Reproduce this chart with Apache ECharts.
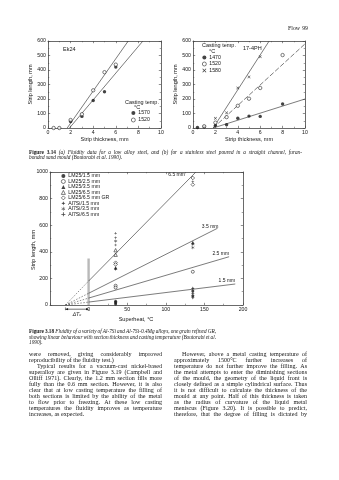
<!DOCTYPE html>
<html>
<head>
<meta charset="utf-8">
<title>Flow 99</title>
<script src="https://cdn.jsdelivr.net/npm/echarts@6.0.0/dist/echarts.min.js"></script>
<style>
html, body { margin: 0; padding: 0; background: #fff; }
#page { width: 339px; height: 480px; }
</style>
</head>
<body>
<div id="page"></div>
<script>
// ---------- Figure 3.14(a): Ek24 low alloy steel ----------
const ek24Pts1570 = [[2, 45], [3, 80], [4, 190], [5, 250], [6, 420]];
const ek24Pts1520 = [[0.5, 0], [1, 0], [2, 55], [3, 95], [4, 260], [5, 385], [6, 437]];
const ek24Fit1570 = [[1.9, 0], [8.4, 600]];
const ek24Fit1520 = [[1.7, 0], [7.1, 600]];

// ---------- Figure 3.14(b): 17-4PH stainless steel ----------
const phPts1470 = [[0.4, 3], [1, 8], [2, 18], [3, 22], [4, 67], [5, 82], [6, 80], [8, 166]];
const phPts1520 = [[1, 12], [2, 37], [3, 75], [4, 153], [5, 202], [6, 276], [8, 503]];
const phPts1580 = [[2, 67], [3, 105], [4, 276], [5, 352], [6, 492]];
const phFit1470 = [[1.8, 0], [10, 200]];
const phFit1520 = [[1.8, 0], [10, 580]];
const phFit1580 = [[1.8, 0], [6.8, 600]];

// axis ranges: [min, max, step]
const thicknessRange = [0, 10, 2];
const stripLengthRange = [0, 600, 100];
const superheatRange = [-50, 200, 50];
const longStripRange = [0, 1000, 200];

// ---------- Figure 3.18: Al-7Si alloys ----------
const sectionLabels = ['6.5 mm', '3.5 mm', '2.5 mm', '1.5 mm'];
const deltaT0 = -30;
const fitAtZero = [180, 88, 52, 22];
const fitEnd = [[139, 1000], [167, 577], [182, 363], [190, 158]];
const liquidusBarTop = 350;

const alloyNames = ['LM25/1.5 mm', 'LM25/2.5 mm', 'LM25/3.5 mm', 'LM25/6.5 mm',
  'LM25/6.5 mm GR', 'Al7Si/1.5 mm', 'Al7Si/3.5 mm', 'Al7Si/6.5 mm'];
const lm25_15 = [[35, 28], [35, 18], [35, 7], [135, 105], [135, 70]];
const lm25_25 = [[35, 145], [35, 131], [135, 250]];
const lm25_35 = [[35, 280], [135, 470]];
const lm25_65 = [[35, 412], [35, 378]];
const lm25_65gr = [[35, 318], [35, 305], [135, 955], [135, 905]];
const al7si_15 = [[35, 270], [135, 125], [135, 88], [135, 55]];
const al7si_35 = [[35, 481], [135, 456], [135, 432]];
const al7si_65 = [[35, 539], [35, 506], [35, 451], [135, 927]];

// ---------- Captions and running text ----------
const caption314 = [
  'Figure 3.14 (a) Fluidity data for a low alloy steel, and (b) for a stainless steel poured in a straight channel, furan-',
  'bonded sand mould (Boutorabi et al. 1990).'
];
const caption318 = [
  'Figure 3.18 Fluidity of a variety of Al-7Si and Al-7Si-0.4Mg alloys, one grain refined GR,',
  'showing linear behaviour with section thickness and casting temperature (Boutorabi et al.',
  '1990).'
];
const bodyLeft = [
  'were removed, giving considerably improved',
  'reproducibility of the fluidity test.)',
  'Typical results for a vacuum-cast nickel-based',
  'superalloy are given in Figure 3.19 (Campbell and',
  'Olliff 1971). Clearly, the 1.2 mm section fills more',
  'fully than the 0.6 mm section. However, it is also',
  'clear that at low casting temperature the filling of',
  'both sections is limited by the ability of the metal',
  'to flow prior to freezing. At these low casting',
  'temperatures the fluidity improves as temperature',
  'increases, as expected.'
];
const bodyRight = [
  'However, above a metal casting temperature of',
  'approximately 1500°C further increases of',
  'temperature do not further improve the filling. As',
  'the metal attempts to enter the diminishing sections',
  'of the mould, the geometry of the liquid front is',
  'closely defined as a simple cylindrical surface. Thus',
  'it is not difficult to calculate the thickness of the',
  'mould at any point. Half of this thickness is taken',
  'as the radius of curvature of the liquid metal',
  'meniscus (Figure 3.20). It is possible to predict,',
  'therefore, that the degree of filling is dictated by'
];

// ---------- styling ----------
const INK = '#151515';
const FRAME = '#444';
const FIT = '#444';
const SANS = '"Liberation Sans", Arial, Helvetica, sans-serif';
const SERIF = '"Liberation Serif", "Times New Roman", serif';

const SYM = {
  star4: 'path://M5,0L6.4,3.6L10,5L6.4,6.4L5,10L3.6,6.4L0,5L3.6,3.6Z',
  cross: 'path://M1.3,0L5,3.7L8.7,0L10,1.3L6.3,5L10,8.7L8.7,10L5,6.3L1.3,10L0,8.7L3.7,5L0,1.3Z',
  plus: 'path://M4,0H6V4H10V6H6V10H4V6H0V4H4Z',
  asterisk: 'path://M4.4,0H5.6V3.9L9,1.9L9.6,3L6.2,5L9.6,7L9,8.1L5.6,6.1V10H4.4V6.1L1,8.1L0.4,7L3.8,5L0.4,3L1,1.9L4.4,3.9Z'
};

function axisPair(gridIndex, dim, range, minorSplit, extra) {
  const [min, max, interval] = range;
  const make = (isMain) => ({
    type: 'value', gridIndex, min, max, interval,
    position: dim === 'x' ? (isMain ? 'bottom' : 'top') : (isMain ? 'left' : 'right'),
    axisLine: { show: true, onZero: false, lineStyle: { color: FRAME, width: 0.8 } },
    axisTick: { show: true, inside: true, length: 2.2, lineStyle: { color: FRAME, width: 0.6 } },
    minorTick: { show: true, splitNumber: minorSplit, length: 1.3, lineStyle: { color: FRAME, width: 0.5 } },
    splitLine: { show: false },
    minorSplitLine: { show: false },
    axisLabel: isMain
      ? { show: true, fontSize: 5.2, fontFamily: SANS, color: INK, margin: dim === 'x' ? 2.5 : 2,
          formatter: (v) => (v < 0 ? '' : String(v)) }
      : { show: false }
  });
  const main = Object.assign(make(true), extra || {});
  return [main, make(false)];
}

const nameStyle = { fontSize: 5.5, fontFamily: SANS, color: INK };

const xAxis = [
  ...axisPair(0, 'x', thicknessRange, 2, { name: 'Strip thickness, mm', nameLocation: 'middle', nameGap: 8.5, nameTextStyle: nameStyle }),
  ...axisPair(1, 'x', thicknessRange, 2, { name: 'Strip thickness, mm', nameLocation: 'middle', nameGap: 8.5, nameTextStyle: nameStyle }),
  ...axisPair(2, 'x', superheatRange, 2)
];

const yAxis = [
  ...axisPair(0, 'y', stripLengthRange, 2, { name: 'Strip length, mm', nameLocation: 'middle', nameGap: 11.5, nameTextStyle: nameStyle }),
  ...axisPair(1, 'y', stripLengthRange, 2, { name: 'Strip length, mm', nameLocation: 'middle', nameGap: 11.5, nameTextStyle: nameStyle }),
  ...axisPair(2, 'y', longStripRange, 2)
];

const filled = { color: INK };
const open = { color: '#fff', borderColor: INK, borderWidth: 0.7 };

function pts(name, data, axis, symbol, size, style) {
  return {
    type: 'scatter', name, data, xAxisIndex: axis, yAxisIndex: axis,
    symbol, symbolSize: size, itemStyle: style, z: 4, silent: true
  };
}
function fit(data, axis, extra) {
  return Object.assign({
    type: 'line', data, xAxisIndex: axis, yAxisIndex: axis,
    symbol: 'none', showSymbol: false, silent: true, z: 2,
    lineStyle: { color: FIT, width: 0.7 }
  }, extra || {});
}

const series = [
  // (a) Ek24
  fit(ek24Fit1570, 0), fit(ek24Fit1520, 0),
  pts('Ek24 1570', ek24Pts1570, 0, 'circle', 3.4, filled),
  pts('Ek24 1520', ek24Pts1520, 0, 'circle', 3.4, open),
  // (b) 17-4PH
  fit(phFit1470, 2), fit(phFit1520, 2, { lineStyle: { color: FIT, width: 0.7, type: [5, 2] } }), fit(phFit1580, 2),
  pts('PH 1470', phPts1470, 2, 'circle', 3.4, filled),
  pts('PH 1520', phPts1520, 2, 'circle', 3.4, open),
  pts('PH 1580', phPts1580, 2, SYM.cross, 3, filled),
  // 3.18 liquidus marker bar
  fit([[0, 0], [0, liquidusBarTop]], 4, { lineStyle: { color: '#b9b9b9', width: 2.4 }, z: 1 })
];
fitEnd.forEach((end, i) => {
  series.push(fit([[deltaT0, 0], [0, fitAtZero[i]]], 4, { lineStyle: { color: FIT, width: 0.6, type: [1.5, 1.5] } }));
  series.push(fit([[0, fitAtZero[i]], end], 4, { lineStyle: { color: FIT, width: 0.7 } }));
});
series.push(
  pts(alloyNames[0], lm25_15, 4, 'circle', 3, filled),
  pts(alloyNames[1], lm25_25, 4, 'circle', 3, open),
  pts(alloyNames[2], lm25_35, 4, 'triangle', 3.4, filled),
  pts(alloyNames[3], lm25_65, 4, 'triangle', 3.4, open),
  pts(alloyNames[4], lm25_65gr, 4, 'diamond', 3.6, open),
  pts(alloyNames[5], al7si_15, 4, SYM.star4, 3.8, filled),
  pts(alloyNames[6], al7si_35, 4, SYM.asterisk, 3.2, filled),
  pts(alloyNames[7], al7si_65, 4, SYM.plus, 2.6, filled)
);

function legendBox(names, left, top, gap, fmt) {
  return {
    data: names, left, top, orient: 'vertical', padding: 0,
    itemWidth: 4, itemHeight: 4, itemGap: gap, selectedMode: false,
    itemStyle: { borderWidth: 0.7, borderColor: 'inherit' },
    textStyle: { fontSize: 5.2, fontFamily: SANS, color: INK, lineHeight: 5, padding: [0, 0, 0, -2] },
    formatter: fmt
  };
}

const option = {
  animation: false,
  backgroundColor: '#fff',
  grid: [
    { left: 48, top: 41, width: 113, height: 87, outerBoundsMode: 'none' },
    { left: 193, top: 41, width: 112, height: 87, outerBoundsMode: 'none' },
    { left: 50, top: 172, width: 193, height: 133, outerBoundsMode: 'none' }
  ],
  xAxis, yAxis, series,
  legend: [
    legendBox(['Ek24 1570', 'Ek24 1520'], 131, 110.5, 2, (n) => n.split(' ').pop()),
    legendBox(['PH 1470', 'PH 1520', 'PH 1580'], 202, 55, 1.5, (n) => n.split(' ').pop()),
    legendBox(alloyNames, 61, 173.5, 0.47, (n) => n)
  ]
};

const chart = echarts.init(document.getElementById('page'), null, { renderer: 'canvas' });
chart.setOption(option);

// ---------- text, annotations and page furniture ----------
const measureCtx = document.createElement('canvas').getContext('2d');
function fontOf(size, family, bold, italic) {
  return (italic ? 'italic ' : 'normal ') + (bold ? 'bold ' : 'normal ') + size + 'px ' + family;
}
function textW(s, font) { measureCtx.font = font; return measureCtx.measureText(s).width; }

function txt(x, y, s, o) {
  return {
    type: 'text', x, y, silent: true,
    style: Object.assign({ text: s, fontSize: 5.5, fontFamily: SANS, fill: INK, textAlign: 'left', textVerticalAlign: 'middle' }, o || {})
  };
}

// justified block of words, one text element per word
function block(lines, cfg) {
  const els = [];
  const tok = lines.map((line, i) => line.split(' ').map((w, k) => {
    const bold = i === 0 && k < (cfg.boldLead || 0);
    return { w, bold, italic: !!cfg.italic && !bold };
  }));
  const indentOf = (i) => ((cfg.indent || []).includes(i) ? cfg.indentW : 0);
  // shrink the type if any justified line cannot fit
  let size = cfg.size;
  tok.forEach((words, i) => {
    if ((cfg.ragged || []).includes(i)) return;
    const sum = words.reduce((a, t) => a + textW(t.w, fontOf(size, cfg.family, t.bold, t.italic)), 0);
    const need = sum + (words.length - 1) * textW(' ', fontOf(size, cfg.family)) * 0.75;
    const avail = cfg.width - indentOf(i);
    if (need > avail) size = size * avail / need;
  });
  tok.forEach((words, i) => {
    const fonts = words.map((t) => fontOf(size, cfg.family, t.bold, t.italic));
    const widths = words.map((t, k) => textW(t.w, fonts[k]));
    const sum = widths.reduce((a, b) => a + b, 0);
    const avail = cfg.width - indentOf(i);
    let gap = textW(' ', fontOf(size, cfg.family));
    if (!(cfg.ragged || []).includes(i) && words.length > 1) gap = (avail - sum) / (words.length - 1);
    let cx = cfg.x + indentOf(i);
    words.forEach((t, k) => {
      els.push(txt(cx, cfg.y + i * cfg.pitch, t.w, {
        fontSize: size, fontFamily: cfg.family,
        fontWeight: t.bold ? 'bold' : 'normal', fontStyle: t.italic ? 'italic' : 'normal'
      }));
      cx += widths[k] + gap;
    });
  });
  return els;
}

const px = (v) => chart.convertToPixel({ xAxisIndex: 4 }, v);
const py = (v) => chart.convertToPixel({ yAxisIndex: 4 }, v);

const g = [];
// running head
g.push(txt(300, 28, 'Flow', { fontFamily: SERIF, fontSize: 5.8, textAlign: 'right' }));
g.push(txt(308, 28, '99', { fontFamily: SERIF, fontSize: 5.8, textAlign: 'right' }));

// (a) and (b) inner labels
g.push(txt(63, 49, 'Ek24'));
g.push(txt(125, 102, 'Casting temp.'));
g.push(txt(134, 107, '°C'));
g.push(txt(202, 45.5, 'Casting temp.'));
g.push(txt(209, 51.5, '°C'));
g.push(txt(243, 48, '17-4PH'));

// 3.18 curve labels next to the end of each fit line
const labelShift = [[-11, 3], [1, -1.5], [0, -2.8], [0, -3.3]];
fitEnd.forEach((end, i) => {
  g.push(txt(px(end[0]) + labelShift[i][0], py(end[1]) + labelShift[i][1], sectionLabels[i],
    { fontSize: 5, textAlign: 'right' }));
});

// 3.18 superheat offset arrow below the axis
const ax0 = px(deltaT0), ax1 = px(0), ay = py(0) + 4.2;
g.push({ type: 'line', silent: true, shape: { x1: ax0, y1: ay, x2: ax1, y2: ay }, style: { stroke: INK, lineWidth: 0.6 } });
g.push({ type: 'polygon', silent: true, shape: { points: [[ax0, ay], [ax0 + 2.6, ay - 1.1], [ax0 + 2.6, ay + 1.1]] }, style: { fill: INK } });
g.push({ type: 'polygon', silent: true, shape: { points: [[ax1, ay], [ax1 - 2.6, ay - 1.1], [ax1 - 2.6, ay + 1.1]] }, style: { fill: INK } });
g.push({ type: 'line', silent: true, shape: { x1: ax0, y1: ay - 1.8, x2: ax0, y2: ay + 1 }, style: { stroke: INK, lineWidth: 0.5 } });
g.push(txt((ax0 + ax1) / 2, ay + 6, 'ΔT₀', { fontSize: 5, fontStyle: 'italic', textAlign: 'center', fontFamily: '"DejaVu Sans", ' + SANS }));

// 3.18 axis titles
g.push(txt(136, 319, 'Superheat, °C', { textAlign: 'center' }));
g.push({ type: 'text', x: 33.5, y: 250, rotation: Math.PI / 2, silent: true,
  style: { text: 'Strip length, mm', fontSize: 5.5, fontFamily: SANS, fill: INK, textAlign: 'center', textVerticalAlign: 'middle' } });

// captions
g.push(...block(caption314, { x: 29, y: 153, width: 273, pitch: 5, size: 5.3, family: SERIF, italic: true, boldLead: 2, ragged: [1] }));
g.push(...block(caption318, { x: 29, y: 332, width: 187, pitch: 5.3, size: 5.3, family: SERIF, italic: true, boldLead: 2, ragged: [2] }));

// two columns of running text
g.push(...block(bodyLeft, { x: 29, y: 354.5, width: 133, pitch: 5.95, size: 6.1, family: SERIF, indent: [2], indentW: 8, ragged: [1, 10] }));
g.push(...block(bodyRight, { x: 174, y: 354.5, width: 133, pitch: 5.95, size: 6.1, family: SERIF, indent: [0], indentW: 8, ragged: [] }));

chart.setOption({ graphic: { elements: g } });
</script>
</body>
</html>
